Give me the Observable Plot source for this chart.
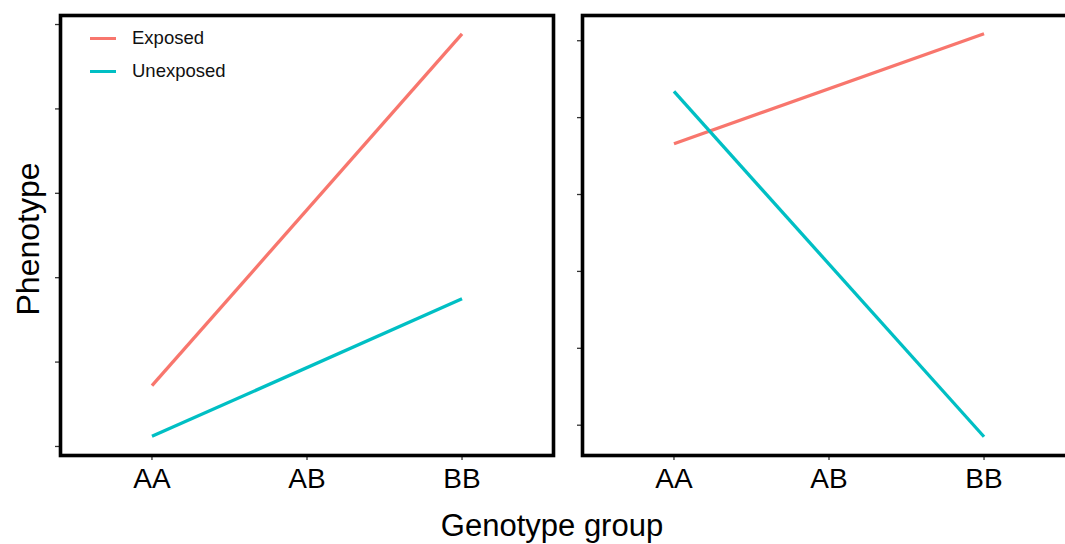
<!DOCTYPE html>
<html>
<head>
<meta charset="utf-8">
<script src="https://cdn.jsdelivr.net/npm/d3@7"></script>
<script src="https://cdn.jsdelivr.net/npm/@observablehq/plot@0.6"></script>
<style>
  html, body { margin: 0; padding: 0; background: #fff; }
  body { width: 1065px; height: 544px; overflow: hidden; position: relative; font-family: "Liberation Sans", Arial, sans-serif; }
  .panel { position: absolute; top: 0; width: 561px; height: 500px; }
  .panel svg { max-width: none !important; }
  .ylab { position: absolute; left: 28px; top: 239px; transform: translate(-50%, -50%) rotate(-90deg); font-size: 32px; white-space: nowrap; color: #000; }
  .xlab { position: absolute; left: 552px; top: 537px; transform: translate(-50%, -0.86em); font-size: 31px; line-height: 1; white-space: nowrap; color: #000; }
  .leg { position: absolute; font-size: 18.5px; line-height: 1; color: #111; white-space: nowrap; }
  .legline { position: absolute; width: 26px; height: 3px; }
</style>
</head>
<body>
<div id="left" class="panel" style="left:0px"></div>
<div id="right" class="panel" style="left:521.5px"></div>
<div class="ylab">Phenotype</div>
<div class="xlab">Genotype group</div>
<div id="legend"></div>
<script>
// ---- data ----
const genotypes = ["AA", "AB", "BB"];
const groups = ["Exposed", "Unexposed"];
const groupColors = ["#F8766D", "#00BFC4"];
const lineGenotypes = ["AA", "BB"];
const leftExposed = [0.72, 4.89];
const leftUnexposed = [0.12, 1.75];
const rightExposed = [3.66, 5.09];
const rightUnexposed = [4.34, -0.15];
const yTicks = [0, 1, 2, 3, 4, 5];
const leftDomain = [-0.107, 5.107];
const rightDomain = [-0.394, 5.328];

function rows(exposed, unexposed) {
  const out = [];
  lineGenotypes.forEach((g, i) => {
    out.push({genotype: g, value: exposed[i], group: groups[0]});
    out.push({genotype: g, value: unexposed[i], group: groups[1]});
  });
  return out;
}

function panel(data, yDomain) {
  return Plot.plot({
    width: 561,
    height: 500,
    marginLeft: 60,
    marginRight: 8,
    marginTop: 15,
    marginBottom: 45,
    style: {fontFamily: "'Liberation Sans', Arial, sans-serif", background: "transparent", color: "#000", maxWidth: "none"},
    x: {type: "point", domain: genotypes, padding: 0.59, round: false, label: null},
    y: {domain: yDomain, label: null},
    color: {domain: groups, range: groupColors},
    marks: [
      Plot.line(data, {x: "genotype", y: "value", z: "group", stroke: "group", strokeWidth: 3.3, strokeLinecap: "butt"}),
      Plot.axisY(yTicks, {tickSize: 5, tickFormat: () => "", stroke: "#333", strokeWidth: 1.3, label: null}),
      Plot.axisX({tickSize: 5, tickPadding: 8, fontSize: 28, stroke: "#333", strokeWidth: 1.3, fill: "#000", label: null}),
      Plot.frame({stroke: "#000", strokeWidth: 3.6})
    ]
  });
}

document.getElementById("left").appendChild(panel(rows(leftExposed, leftUnexposed), leftDomain));
document.getElementById("right").appendChild(panel(rows(rightExposed, rightUnexposed), rightDomain));

// legend
const leg = document.getElementById("legend");
groups.forEach((g, i) => {
  const y = 38 + i * 33;
  const line = document.createElement("div");
  line.className = "legline";
  line.style.left = "90px";
  line.style.top = (y - 1.5) + "px";
  line.style.background = groupColors[i];
  leg.appendChild(line);
  const t = document.createElement("div");
  t.className = "leg";
  t.style.left = "132px";
  t.style.top = (y - 9) + "px";
  t.textContent = g;
  leg.appendChild(t);
});
</script>
</body>
</html>
